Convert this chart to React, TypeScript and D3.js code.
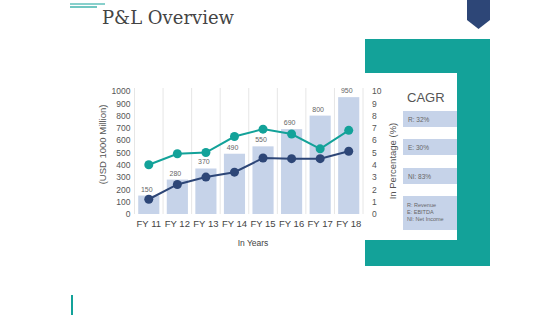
import { useEffect, useRef } from 'react'
import * as d3 from 'd3'

const YEARS = ['FY 11', 'FY 12', 'FY 13', 'FY 14', 'FY 15', 'FY 16', 'FY 17', 'FY 18']
const REVENUE = [150, 280, 370, 490, 550, 690, 800, 950]
const EBITDA_PCT = [4.0, 4.9, 5.0, 6.3, 6.9, 6.5, 5.3, 6.8]
const NET_INCOME_PCT = [1.2, 2.4, 3.0, 3.4, 4.55, 4.5, 4.5, 5.1]
const LEFT_TICKS = [0, 100, 200, 300, 400, 500, 600, 700, 800, 900, 1000]
const RIGHT_TICKS = [0, 1, 2, 3, 4, 5, 6, 7, 8, 9, 10]
const CAGR_ITEMS = ['R: 32%', 'E: 30%', 'NI: 83%']
const CAGR_NOTES = ['R: Revenue', 'E: EBITDA', 'NI: Net Income']

const W = 560
const H = 315
const PLOT = { left: 134.5, right: 363, top: 91, bottom: 214 }

const TEAL = '#13A299'
const NAVY = '#2D4677'
const BAR = '#C6D3E9'
const TEXT = '#555'
const GRID = '#E6E6E6'
const SANS = "'Liberation Sans', Arial, sans-serif"

export default function App() {
  const svgRef = useRef<SVGSVGElement>(null)

  useEffect(() => {
    const svg = d3.select(svgRef.current)
    svg.selectAll('*').remove()

    // ── decoration ────────────────────────────────────────────────
    svg.append('line').attr('x1', 70).attr('x2', 105).attr('y1', 4).attr('y2', 4).attr('stroke', TEAL).attr('stroke-width', 1.2)
    svg.append('line').attr('x1', 70).attr('x2', 97).attr('y1', 7).attr('y2', 7).attr('stroke', TEAL).attr('stroke-width', 1.2)
    svg.append('text').attr('x', 102).attr('y', 24)
      .attr('font-family', "Georgia, 'DejaVu Serif', serif").attr('font-size', 18).attr('fill', '#444')
      .text('P&L Overview')
    svg.append('path').attr('d', 'M467,0 L490,0 L490,20 L478.5,29 L467,20 Z').attr('fill', NAVY)
    svg.append('line').attr('x1', 72).attr('x2', 72).attr('y1', 295).attr('y2', 315).attr('stroke', TEAL).attr('stroke-width', 2)

    svg.append('rect').attr('x', 365).attr('y', 39).attr('width', 125).attr('height', 227).attr('fill', TEAL)
    svg.append('rect').attr('x', 340).attr('y', 73).attr('width', 117).attr('height', 167).attr('fill', '#fff')

    // ── scales ────────────────────────────────────────────────────
    const x = d3.scaleBand().domain(YEARS).range([PLOT.left, PLOT.right]).paddingInner(0.26).paddingOuter(0.13)
    const yL = d3.scaleLinear().domain([0, 1000]).range([PLOT.bottom, PLOT.top])
    const yR = d3.scaleLinear().domain([0, 10]).range([PLOT.bottom, PLOT.top])
    const step = (PLOT.right - PLOT.left) / YEARS.length

    const g = svg.append('g')

    // vertical gridlines at band boundaries
    d3.range(YEARS.length + 1).forEach((i) => {
      g.append('line')
        .attr('x1', PLOT.left + i * step).attr('x2', PLOT.left + i * step)
        .attr('y1', PLOT.top - 3).attr('y2', PLOT.bottom)
        .attr('stroke', GRID).attr('stroke-width', 1)
    })

    // bars
    g.selectAll('rect.bar').data(REVENUE).enter().append('rect')
      .attr('class', 'bar')
      .attr('x', (_, i) => x(YEARS[i])!)
      .attr('width', x.bandwidth())
      .attr('y', (d) => yL(d))
      .attr('height', (d) => PLOT.bottom - yL(d))
      .attr('fill', BAR)

    g.selectAll('text.val').data(REVENUE).enter().append('text')
      .attr('x', (_, i) => x(YEARS[i])! + x.bandwidth() / 2 - 2)
      .attr('y', (d) => yL(d) - 4)
      .attr('text-anchor', 'middle')
      .attr('font-family', SANS).attr('font-size', 7).attr('fill', '#666')
      .text((d) => d)

    // lines
    const drawLine = (vals: number[], color: string) => {
      const line = d3.line<number>()
        .x((_, i) => x(YEARS[i])! + x.bandwidth() / 2)
        .y((d) => yR(d))
      g.append('path').datum(vals).attr('d', line).attr('fill', 'none').attr('stroke', color).attr('stroke-width', 2)
      g.selectAll(null).data(vals).enter().append('circle')
        .attr('cx', (_, i) => x(YEARS[i])! + x.bandwidth() / 2)
        .attr('cy', (d) => yR(d))
        .attr('r', 4.5)
        .attr('fill', color)
    }
    drawLine(EBITDA_PCT, TEAL)
    drawLine(NET_INCOME_PCT, NAVY)

    // axes
    const axisL = g.append('g').attr('transform', `translate(${PLOT.left - 4},0)`)
      .call(d3.axisLeft(yL).tickValues(LEFT_TICKS).tickFormat(d3.format('d')).tickSize(0).tickPadding(0))
    const axisR = g.append('g').attr('transform', `translate(${PLOT.right + 9},0)`)
      .call(d3.axisRight(yR).tickValues(RIGHT_TICKS).tickFormat(d3.format('d')).tickSize(0).tickPadding(0))
    const axisB = g.append('g').attr('transform', `translate(0,${PLOT.bottom + 3})`)
      .call(d3.axisBottom(x).tickSize(0).tickPadding(3))
    ;[axisL, axisR, axisB].forEach((a) => {
      a.select('.domain').remove()
      a.selectAll('.tick text').attr('font-family', SANS).attr('font-size', 8.5).attr('fill', TEXT)
    })
    axisB.selectAll('.tick text').attr('font-size', 9.5).attr('fill', '#444')

    g.append('text')
      .attr('transform', `translate(106,${(PLOT.top + PLOT.bottom) / 2 - 8}) rotate(-90)`)
      .attr('text-anchor', 'middle')
      .attr('font-family', SANS).attr('font-size', 9.5).attr('fill', TEXT)
      .text('(USD 1000 Million)')
    g.append('text')
      .attr('transform', `translate(396,161) rotate(-90)`)
      .attr('text-anchor', 'middle')
      .attr('font-family', SANS).attr('font-size', 9.5).attr('fill', TEXT)
      .text('In Percentage (%)')
    g.append('text')
      .attr('x', 253).attr('y', 246)
      .attr('text-anchor', 'middle')
      .attr('font-family', SANS).attr('font-size', 8.5).attr('fill', '#444')
      .text('In Years')

    // ── CAGR panel ────────────────────────────────────────────────
    const p = svg.append('g')
    p.append('text').attr('x', 407).attr('y', 102)
      .attr('font-family', SANS).attr('font-size', 13).attr('fill', '#555').text('CAGR')
    const boxY = [111, 139, 168]
    CAGR_ITEMS.forEach((t, i) => {
      p.append('rect').attr('x', 403).attr('y', boxY[i]).attr('width', 54).attr('height', 16).attr('fill', BAR)
      p.append('text').attr('x', 408).attr('y', boxY[i] + 10.5)
        .attr('font-family', SANS).attr('font-size', 6.5).attr('fill', '#666').text(t)
    })
    p.append('rect').attr('x', 403).attr('y', 196).attr('width', 54).attr('height', 34).attr('fill', BAR)
    CAGR_NOTES.forEach((t, i) => {
      p.append('text').attr('x', 407).attr('y', 207 + i * 7)
        .attr('font-family', SANS).attr('font-size', 5.5).attr('fill', '#666').text(t)
    })
  }, [])

  return (
    <svg
      ref={svgRef}
      width={W}
      height={H}
      style={{ position: 'fixed', top: 0, left: 0, background: '#fff' }}
    />
  )
}
